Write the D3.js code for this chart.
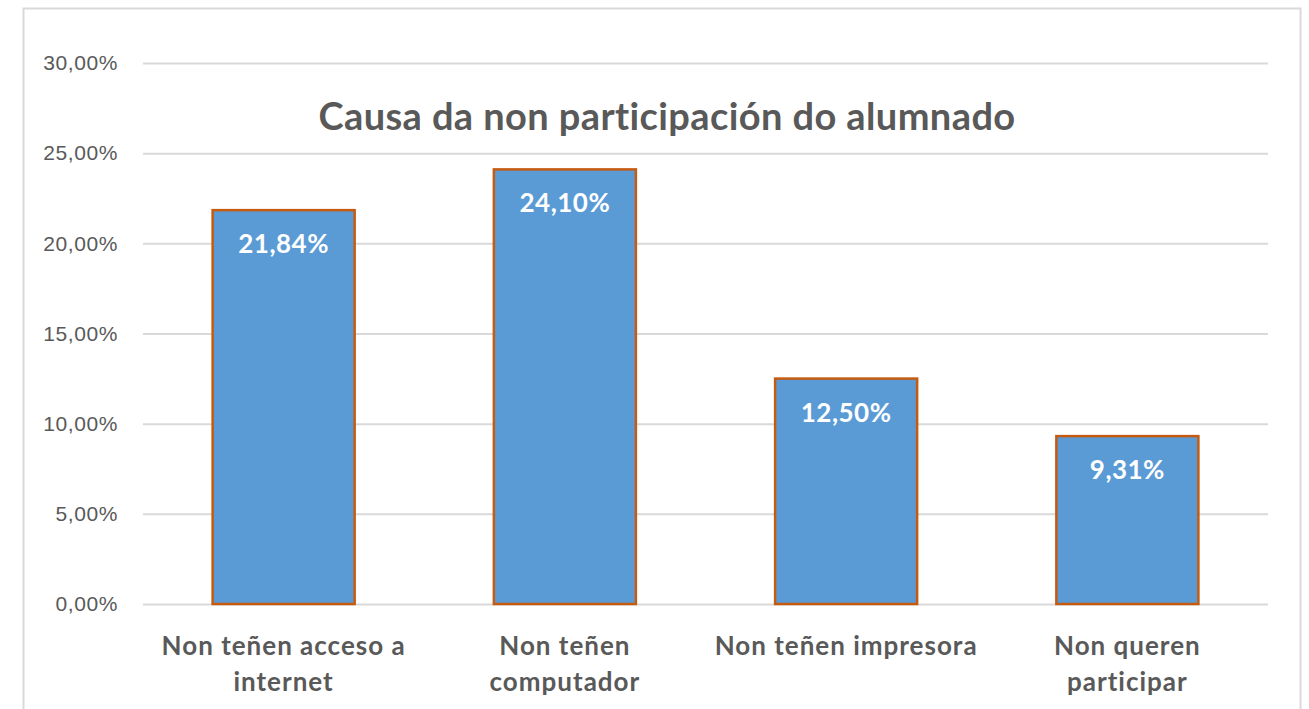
<!DOCTYPE html>
<html>
<head>
<meta charset="utf-8">
<script src="https://cdn.jsdelivr.net/npm/d3@7"></script>
<style>
  body { margin: 0; background: #fff; }
  svg { font-family: Lato, "Open Sans", sans-serif; }
</style>
</head>
<body>
<svg id="chart" width="1309" height="709"></svg>
<script>
const title = 'Causa da non participación do alumnado'
const categories = ['Non teñen acceso a internet', 'Non teñen computador', 'Non teñen impresora', 'Non queren participar']
const categoryLines = [
  ['Non teñen acceso a', 'internet'],
  ['Non teñen', 'computador'],
  ['Non teñen impresora'],
  ['Non queren', 'participar'],
]
const values = [0.2184, 0.241, 0.125, 0.0931]
const yTicks = [0, 0.05, 0.1, 0.15, 0.2, 0.25, 0.3]

const svg = d3.select('#chart')
const margin = { left: 143, right: 41, top: 63, bottom: 105 }
const width = 1309, height = 709

// outer chart frame (bottom edge is cut off in the picture)
svg.append('path')
  .attr('d', `M23.5,${height} V8.5 H1300.5 V${height}`)
  .attr('fill', 'none')
  .attr('stroke', '#d9d9d9')
  .attr('stroke-width', 2)

const x = d3.scaleBand()
  .domain(categories)
  .range([margin.left, width - margin.right])
  .paddingInner(0.495)
  .paddingOuter(0.2475)

const y = d3.scaleLinear()
  .domain([0, 0.3])
  .range([height - margin.bottom, margin.top])

const fmt = (v) => d3.format('.2f')(v * 100).replace('.', ',') + '%'

// gridlines + y labels
const yAxis = svg.append('g')
  .attr('transform', `translate(${margin.left},0)`)
  .call(d3.axisLeft(y).tickValues(yTicks).tickFormat(fmt)
    .tickSize(-(width - margin.left - margin.right)).tickPadding(25))
yAxis.select('.domain').remove()
yAxis.selectAll('line').attr('stroke', '#d9d9d9').attr('stroke-width', 2)
yAxis.selectAll('text')
  .attr('fill', '#595959')
  .style('font-size', '21px')
  .style('letter-spacing', '0.6px')

// bars
svg.append('g').selectAll('rect')
  .data(values)
  .join('rect')
  .attr('x', (d, i) => x(categories[i]))
  .attr('y', (d) => y(d))
  .attr('width', x.bandwidth())
  .attr('height', (d) => y(0) - y(d))
  .attr('fill', '#5b9bd5')
  .attr('stroke', '#c55a11')
  .attr('stroke-width', 2.5)

// value labels
svg.append('g').selectAll('text')
  .data(values)
  .join('text')
  .attr('x', (d, i) => x(categories[i]) + x.bandwidth() / 2)
  .attr('y', (d) => y(d) + 43)
  .attr('text-anchor', 'middle')
  .attr('fill', '#fff')
  .style('font-size', '26px')
  .style('letter-spacing', '0.5px')
  .style('font-weight', 'bold')
  .text(fmt)

// category labels
const cat = svg.append('g').selectAll('text')
  .data(categoryLines)
  .join('text')
  .attr('x', (d, i) => x(categories[i]) + x.bandwidth() / 2)
  .attr('y', 655)
  .attr('text-anchor', 'middle')
  .attr('fill', '#595959')
  .style('font-size', '26px')
  .style('letter-spacing', '1px')
  .style('font-weight', 'bold')
cat.each(function (lines) {
  const t = d3.select(this)
  lines.forEach((line, j) => {
    t.append('tspan')
      .attr('x', t.attr('x'))
      .attr('dy', j === 0 ? 0 : 36)
      .text(line)
  })
})

// title
svg.append('text')
  .attr('x', 667)
  .attr('y', 130)
  .attr('text-anchor', 'middle')
  .attr('fill', '#595959')
  .style('font-size', '38px')
  .style('letter-spacing', '0.4px')
  .style('font-weight', 'bold')
  .text(title)
</script>
</body>
</html>
